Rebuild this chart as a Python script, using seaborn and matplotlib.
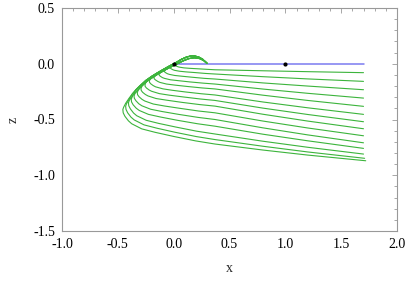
import matplotlib
matplotlib.use("Agg")
import matplotlib.pyplot as plt
from matplotlib.ticker import MultipleLocator, FormatStrFormatter
import pandas as pd
import seaborn as sns

# two slightly offset versions of the hump + upper (descending) branch
PATH_A_X = [0.29, 0.26, 0.22, 0.17, 0.12, 0.07, 0.03, 0.0, -0.05, -0.1, -0.15,
            -0.2, -0.25, -0.3, -0.34, -0.37, -0.4, -0.43, -0.448]
PATH_A_Z = [0.01, 0.04, 0.062, 0.072, 0.062, 0.04, 0.016, 0.0, -0.027, -0.055,
            -0.084, -0.115, -0.15, -0.195, -0.235, -0.27, -0.31, -0.355, -0.39]
PATH_B_X = [0.30, 0.275, 0.235, 0.185, 0.135, 0.085, 0.045, 0.01, -0.04, -0.09,
            -0.14, -0.19, -0.24, -0.29, -0.33, -0.362]
PATH_B_Z = [0.004, 0.026, 0.046, 0.054, 0.046, 0.026, 0.006, -0.011, -0.036,
            -0.063, -0.092, -0.123, -0.158, -0.202, -0.242, -0.278]

# which upper path each curve follows and for how many points (inner -> outer)
CURVE_PATH = ["A", "B", "A", "B", "A", "B", "A", "B", "A", "B", "A", "B", "A", "A"]
CURVE_NPATH = [6, 8, 9, 10, 10, 11, 12, 13, 13, 14, 15, 16, 16, 19]

# turning point + lower branch of each curve
CURVE_X = [
    [0.03, 0.02, 0.021, 0.028, 0.041, 0.054, 0.092, 0.143, 0.213, 0.297, 0.37, 0.8, 1.2, 1.7],
    [-0.022, -0.03, -0.028, -0.021, -0.006, 0.008, 0.052, 0.11, 0.19, 0.286, 0.37, 0.8, 1.2, 1.7],
    [-0.076, -0.084, -0.082, -0.074, -0.057, -0.04, 0.009, 0.075, 0.166, 0.275, 0.37, 0.8, 1.2, 1.7],
    [-0.123, -0.131, -0.129, -0.12, -0.101, -0.083, -0.028, 0.044, 0.145, 0.265, 0.37, 0.8, 1.2, 1.7],
    [-0.168, -0.176, -0.174, -0.163, -0.143, -0.124, -0.064, 0.015, 0.124, 0.255, 0.37, 0.8, 1.2, 1.7],
    [-0.21, -0.218, -0.216, -0.205, -0.183, -0.162, -0.097, -0.012, 0.105, 0.247, 0.37, 0.8, 1.2, 1.7],
    [-0.249, -0.257, -0.255, -0.243, -0.219, -0.197, -0.128, -0.038, 0.088, 0.238, 0.37, 0.8, 1.2, 1.7],
    [-0.285, -0.293, -0.29, -0.278, -0.253, -0.229, -0.157, -0.061, 0.072, 0.231, 0.37, 0.8, 1.2, 1.7],
    [-0.318, -0.326, -0.323, -0.31, -0.284, -0.259, -0.183, -0.082, 0.057, 0.224, 0.37, 0.8, 1.2, 1.7],
    [-0.347, -0.355, -0.352, -0.338, -0.312, -0.285, -0.206, -0.101, 0.044, 0.218, 0.37, 0.8, 1.2, 1.7],
    [-0.372, -0.38, -0.377, -0.363, -0.335, -0.308, -0.226, -0.117, 0.033, 0.213, 0.37, 0.8, 1.2, 1.7],
    [-0.397, -0.405, -0.402, -0.387, -0.359, -0.331, -0.246, -0.134, 0.021, 0.207, 0.37, 0.8, 1.2, 1.7],
    [-0.422, -0.43, -0.427, -0.412, -0.382, -0.353, -0.266, -0.15, 0.01, 0.202, 0.37, 0.8, 1.2, 1.71],
    [-0.455, -0.452, -0.436, -0.405, -0.376, -0.286, -0.166, 0.0, 0.197, 0.37, 0.8, 1.2, 1.72],
]
CURVE_Z = [
    [0.008, -0.015, -0.019, -0.023, -0.028, -0.031, -0.037, -0.041, -0.045, -0.05, -0.054, -0.063, -0.071, -0.08],
    [-0.022, -0.035, -0.041, -0.046, -0.054, -0.059, -0.067, -0.073, -0.079, -0.087, -0.092, -0.116, -0.136, -0.158],
    [-0.043, -0.065, -0.072, -0.079, -0.089, -0.095, -0.105, -0.112, -0.121, -0.131, -0.137, -0.172, -0.2, -0.233],
    [-0.082, -0.095, -0.103, -0.112, -0.124, -0.131, -0.144, -0.152, -0.163, -0.174, -0.182, -0.227, -0.265, -0.308],
    [-0.103, -0.125, -0.135, -0.145, -0.158, -0.167, -0.182, -0.192, -0.204, -0.217, -0.226, -0.282, -0.329, -0.382],
    [-0.138, -0.155, -0.167, -0.18, -0.196, -0.207, -0.225, -0.238, -0.253, -0.269, -0.28, -0.343, -0.395, -0.454],
    [-0.168, -0.19, -0.204, -0.218, -0.236, -0.247, -0.268, -0.282, -0.298, -0.316, -0.329, -0.398, -0.455, -0.52],
    [-0.203, -0.225, -0.24, -0.256, -0.276, -0.289, -0.312, -0.327, -0.346, -0.366, -0.38, -0.453, -0.514, -0.583],
    [-0.238, -0.26, -0.278, -0.296, -0.319, -0.334, -0.361, -0.379, -0.40, -0.424, -0.44, -0.514, -0.576, -0.646],
    [-0.268, -0.29, -0.31, -0.332, -0.359, -0.377, -0.408, -0.429, -0.454, -0.481, -0.50, -0.575, -0.638, -0.709],
    [-0.298, -0.32, -0.343, -0.368, -0.399, -0.419, -0.454, -0.478, -0.507, -0.538, -0.56, -0.632, -0.691, -0.759],
    [-0.328, -0.35, -0.377, -0.406, -0.442, -0.466, -0.507, -0.535, -0.568, -0.605, -0.63, -0.695, -0.749, -0.81],
    [-0.358, -0.38, -0.409, -0.44, -0.479, -0.504, -0.548, -0.578, -0.614, -0.653, -0.68, -0.740, -0.791, -0.848],
    [-0.41, -0.44, -0.472, -0.512, -0.538, -0.584, -0.615, -0.652, -0.692, -0.72, -0.774, -0.819, -0.87],
]

BLUE_X = [0.0, 1.7]
BLUE_Z = [0.0, 0.0]
DOT_X = [0.0, 1.0]
DOT_Z = [0.0, 0.0]

X_TICKS = [-1.0, -0.5, 0.0, 0.5, 1.0, 1.5, 2.0]
Z_TICKS = [-1.5, -1.0, -0.5, 0.0, 0.5]

sns.set_theme(style="white")
plt.rcParams['font.family'] = ['Liberation Serif', 'DejaVu Serif']
plt.rcParams['axes.unicode_minus'] = True

fig = plt.figure(figsize=(4.07, 2.82), dpi=100)
ax = fig.add_axes([62 / 407, 1 - 231 / 282, (397 - 62) / 407, (231 - 8) / 282])

paths = {"A": (PATH_A_X, PATH_A_Z), "B": (PATH_B_X, PATH_B_Z)}
rows = []
for i, (p, n, xs, zs) in enumerate(zip(CURVE_PATH, CURVE_NPATH, CURVE_X, CURVE_Z)):
    px = paths[p][0][:n] + xs
    pz = paths[p][1][:n] + zs
    for k, (a, b) in enumerate(zip(px, pz)):
        rows.append({"curve": i, "k": k, "x": a, "z": b})
df = pd.DataFrame(rows)

sns.lineplot(x=BLUE_X, y=BLUE_Z, color="#7b7bf0", lw=1.1, ax=ax, zorder=1)
sns.lineplot(data=df, x="x", y="z", units="curve", estimator=None, sort=False,
             color="#3cb43c", lw=0.8, ax=ax, zorder=2, legend=False)
sns.scatterplot(x=DOT_X, y=DOT_Z, color="black", s=9, linewidth=0, ax=ax, zorder=5)

ax.set_xlim(-1, 2)
ax.set_ylim(-1.5, 0.5)
ax.set_xticks(X_TICKS)
ax.set_yticks(Z_TICKS)
ax.xaxis.set_major_formatter(FormatStrFormatter('%.1f'))
ax.yaxis.set_major_formatter(FormatStrFormatter('%.1f'))
ax.xaxis.set_minor_locator(MultipleLocator(0.1))
ax.yaxis.set_minor_locator(MultipleLocator(0.1))
ax.tick_params(which="both", direction="in", top=True, right=True,
               color="#999999", width=0.6, labelsize=10, labelcolor="black", pad=5)
ax.tick_params(which="major", length=3.5)
ax.tick_params(which="minor", length=2)
for s in ax.spines.values():
    s.set_color("#999999")
    s.set_linewidth(0.8)
ax.set_xlabel("x", fontsize=10, labelpad=8)
ax.set_ylabel("z", fontsize=10, labelpad=10)

fig.savefig("out.png", dpi=100)
